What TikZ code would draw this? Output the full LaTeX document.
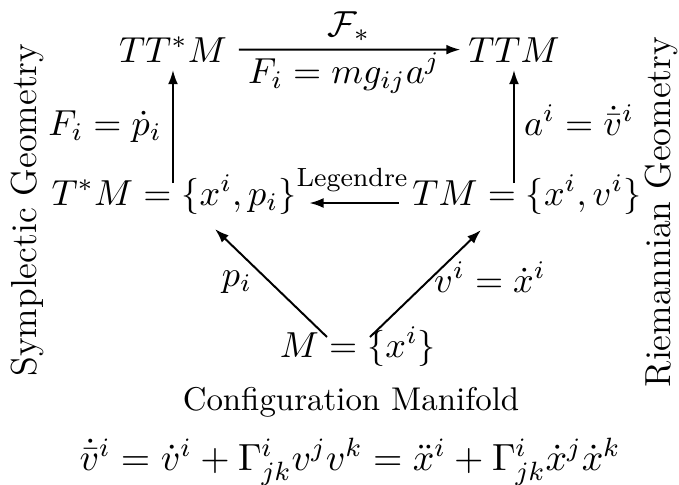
\RequirePackage{fix-cm}
\documentclass[tikz,border=0pt]{standalone}
\usepackage{amsmath}
\usetikzlibrary{arrows.meta,calc}
\begin{document}
\begin{tikzpicture}[x=0.304pt,y=-0.304pt,
  arr/.style={-{Latex[length=4.3pt,width=3pt]}, line width=0.6pt},
  mnode/.style={inner sep=1pt, font=\fontsize{11}{13}\selectfont, anchor=base},
  tnode/.style={inner sep=0pt, anchor=base},
  side/.style={inner sep=0pt, rotate=90, font=\fontsize{11}{13}\selectfont}]
\useasboundingbox (0,0) rectangle (679,484);
% main nodes
\node[mnode] (ttsm) at (173,62) {$TT^*M$};
\node[mnode] (ttm)  at (514,62) {$TTM$};
\node[mnode] (tsm)  at (174,205) {$T^*M = \{x^i, p_i\}$};
\node[mnode] (tm)   at (527,205) {$TM = \{x^i, v^i\}$};
\node[mnode] (m)    at (358,357) {$M = \{x^i\}$};
% arrows
\draw[arr, shorten <=2.4pt, shorten >=1.2pt] (ttsm) -- (ttm);
\draw[arr] ($(ttsm.base |- tsm.base)+(0,-22)$) -- ($(ttsm.base)+(0,8)$);
\draw[arr] ($(ttm.base |- tm.base)+(0,-22)$) -- ($(ttm.base)+(0,8)$);
\draw[arr] ($(tm.base west)+(-10,-2)$) -- ($(tsm.base east)+(9,-2)$);
\draw[arr] ($(m.base)+(-31,-20)$) -- ($(tsm.base)+(41,24)$);
\draw[arr] ($(m.base)+(12,-20)$) -- ($(tm.base)+(-46,25)$);
% labels
\node[mnode] (lf)  at (349,36) {$\mathcal{F}_*$};
\node[mnode] (lfi) at (344,83) {$F_i = m g_{ij} a^j$};
\node[mnode] (lp)  at (105,135) {$F_i = \dot{p}_i$};
\node[mnode] (la)  at (579,135) {$a^i = \dot{\bar{v}}^i$};
\node[tnode, font=\footnotesize] (leg) at (352,186) {Legendre};
\node[mnode] (lpi) at (237,286) {$p_i$};
\node[mnode] (lvi) at (490,292) {$v^i = \dot{x}^i$};
\node[tnode] (conf) at (351,410) {Configuration Manifold};
\node[mnode, font=\fontsize{11.5}{14}\selectfont] (eq) at (350,470) {$\dot{\bar{v}}^i = \dot{v}^i + \Gamma^i_{jk} v^j v^k = \ddot{x}^i + \Gamma^i_{jk}\dot{x}^j\dot{x}^k$};
\node[side] (symp) at (27,210) {Symplectic Geometry};
\node[side] (riem) at (661,212) {Riemannian Geometry};
\end{tikzpicture}
\end{document}
